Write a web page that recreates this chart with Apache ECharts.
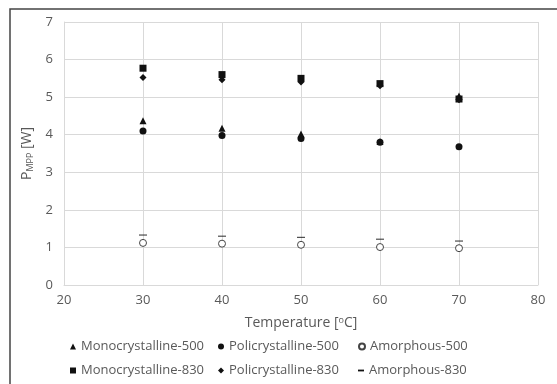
<!DOCTYPE html>
<html>
<head>
<meta charset="utf-8">
<script src="https://cdn.jsdelivr.net/npm/echarts@6/dist/echarts.min.js"></script>
<style>
  html, body { margin: 0; padding: 0; background: #fff; }
  #chart { width: 557px; height: 384px; }
</style>
</head>
<body>
<div id="chart"></div>
<script>
var temps = [30, 40, 50, 60, 70];
var mono500 = [4.37, 4.17, 4.02, 3.82, 5.03];
var poly500 = [4.10, 3.98, 3.90, 3.80, 3.68];
var amor500 = [1.12, 1.10, 1.07, 1.01, 0.98];
var mono830 = [5.77, 5.60, 5.50, 5.36, 4.95];
var poly830 = [5.52, 5.46, 5.40, 5.30, 4.93];
var amor830 = [1.33, 1.30, 1.27, 1.22, 1.17];

var names = ['Monocrystalline-500', 'Policrystalline-500', 'Amorphous-500',
             'Monocrystalline-830', 'Policrystalline-830', 'Amorphous-830'];
var values = [mono500, poly500, amor500, mono830, poly830, amor830];
var symbols = ['triangle', 'circle', 'circle', 'rect', 'diamond', 'path://M0,0h10v3h-10z'];
var sizes = [7, 7, 7, 7, 7, [8, 3]];

var font = 'Open Sans';
var grey = '#595959';

var myChart = echarts.init(document.getElementById('chart'));

var series = names.map(function (n, i) {
    var hollow = i === 2;
    return {
        name: n,
        type: 'scatter',
        symbol: symbols[i],
        symbolSize: sizes[i],
        symbolKeepAspect: i === 5,
        itemStyle: {
            color: hollow ? '#fff' : '#111',
            borderColor: '#444',
            borderWidth: hollow ? 1 : 0,
            opacity: 1
        },
        data: temps.map(function (t, j) { return [t, values[i][j]]; })
    };
});

// Excel-style legend grid: 3 columns x 2 rows, one legend per cell
var legendCols = [70, 218, 358];
var legendRows = [340, 364];
var legends = names.map(function (n, i) {
    return {
        data: [n],
        left: legendCols[i % 3], top: legendRows[Math.floor(i / 3)], padding: 0,
        itemWidth: 6, itemHeight: 6,
        textStyle: { color: grey, fontSize: 13, fontFamily: font }
    };
});

var option = {
    animation: false,
    textStyle: { fontFamily: font },
    graphic: [{
        type: 'rect',
        shape: { x: 10, y: 9, width: 600, height: 400 },
        style: { fill: 'none', stroke: '#444', lineWidth: 1.5 }
    }],
    grid: { left: 64, right: 19, top: 22, bottom: 99 },
    legend: legends,
    xAxis: {
        type: 'value', min: 20, max: 80, interval: 10,
        name: 'Temperature [{sup|o}C]',
        nameLocation: 'middle', nameGap: 31,
        nameTextStyle: {
            color: grey, fontSize: 14, fontFamily: font,
            rich: { sup: { fontSize: 9, color: grey, verticalAlign: 'bottom', padding: [0, 0, 6, 0], fontFamily: font } }
        },
        axisLine: { lineStyle: { color: '#d9d9d9' } },
        axisTick: { show: false },
        axisLabel: { color: grey, fontSize: 13, margin: 9 },
        splitLine: { lineStyle: { color: '#d9d9d9' } }
    },
    yAxis: {
        type: 'value', min: 0, max: 7, interval: 1,
        name: 'P{sub|MPP} [W]',
        nameLocation: 'middle', nameGap: 26,
        nameTextStyle: {
            color: grey, fontSize: 14, fontFamily: font,
            rich: { sub: { fontSize: 9, color: grey, verticalAlign: 'top', padding: [6, 0, 0, 0], fontFamily: font } }
        },
        axisLine: { show: true, lineStyle: { color: '#d9d9d9' } },
        axisTick: { show: false },
        axisLabel: { color: grey, fontSize: 13, margin: 11 },
        splitLine: { lineStyle: { color: '#d9d9d9' } }
    },
    series: series
};

myChart.setOption(option);
</script>
</body>
</html>
